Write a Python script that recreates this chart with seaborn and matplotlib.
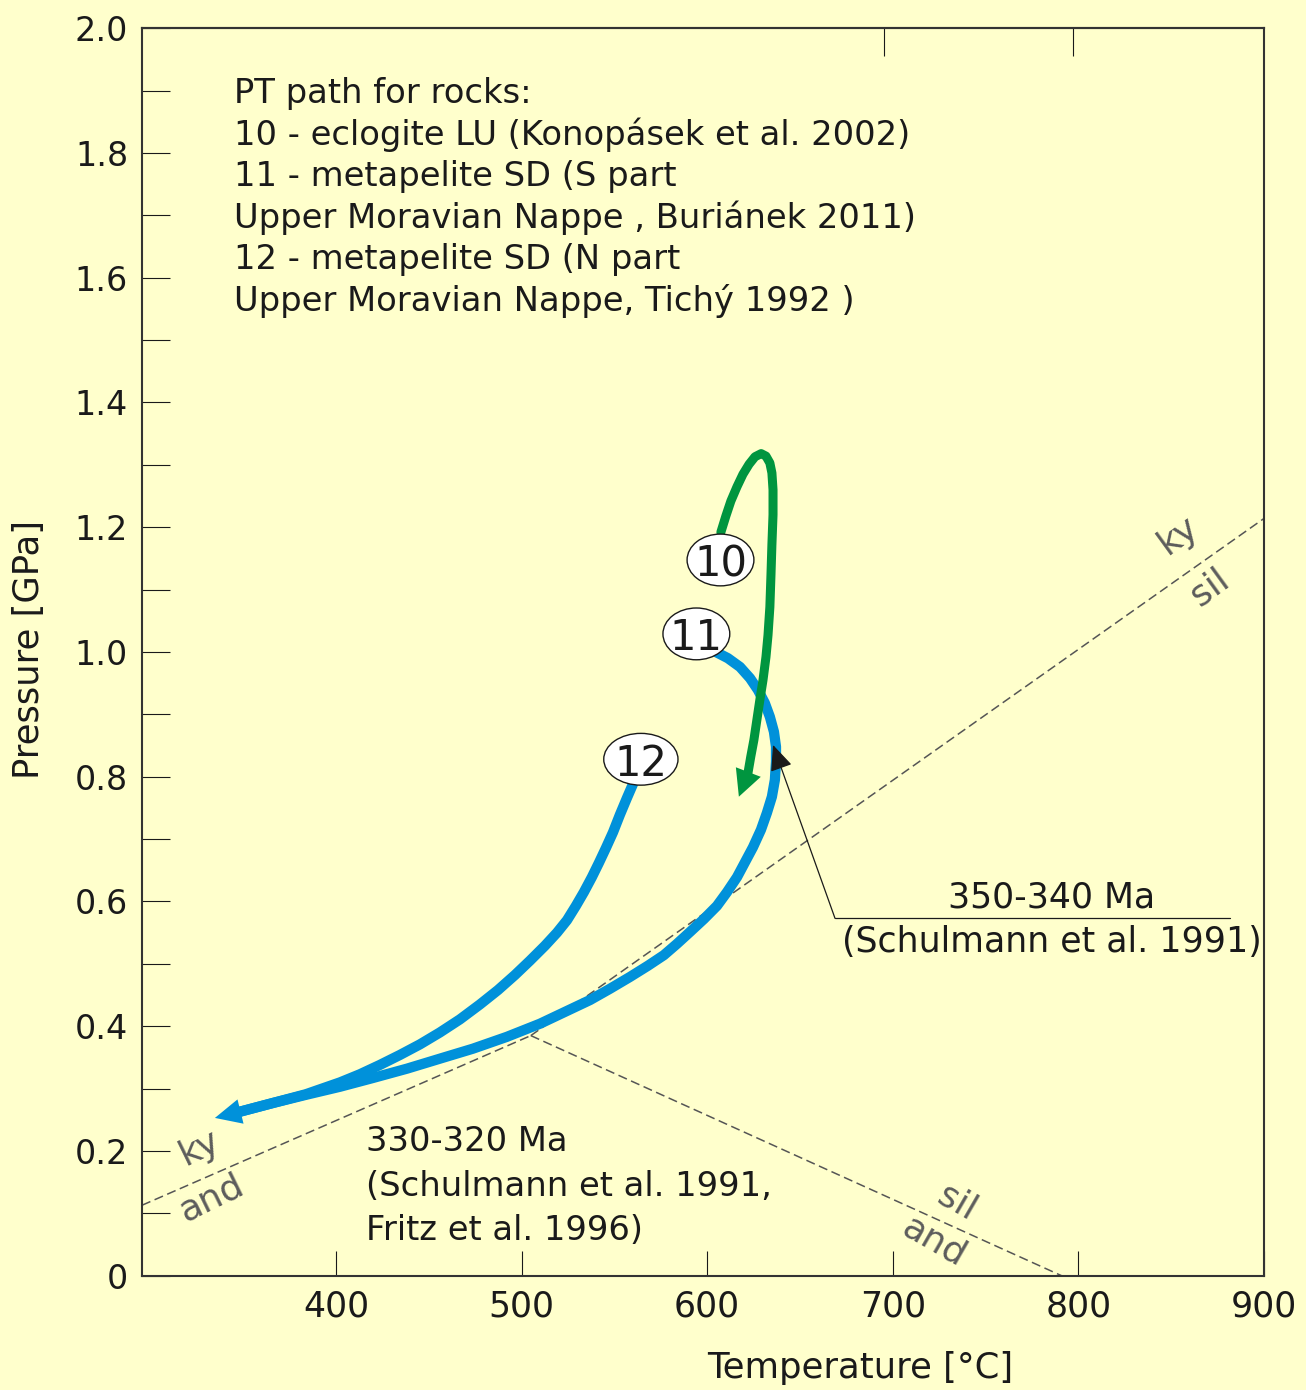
import numpy as np
import pandas as pd
import matplotlib
matplotlib.use("Agg")
import matplotlib.pyplot as plt
import seaborn as sns
from matplotlib.patches import Ellipse

# ---- data -------------------------------------------------------------
# PT paths (temperature in degC, pressure in GPa); last point = arrow tip
path10_T = [607.4, 610.1, 612.8, 616.1, 619.3, 622.6, 625.8, 629.1, 631.7,
            633.8, 634.9, 635.5, 635.5, 634.9, 634.4, 633.8, 632.8, 631.7,
            630.1, 628.4, 626.8, 625.2, 623.5, 622.0, 617.1]
path10_P = [1.192, 1.218, 1.242, 1.265, 1.285, 1.301, 1.313, 1.318, 1.314,
            1.303, 1.287, 1.260, 1.220, 1.172, 1.124, 1.072, 1.027, 0.992,
            0.955, 0.923, 0.891, 0.859, 0.832, 0.806, 0.768]

path11_T = [604.7, 611.2, 617.7, 623.1, 627.4, 631.1, 633.8, 636.0, 637.1,
            637.1, 636.5, 634.9, 632.2, 629.0, 624.7, 620.4, 616.1, 610.7,
            605.3, 598.3, 590.7, 583.7, 576.7, 568.1, 558.4, 547.6, 536.9,
            523.4, 509.9, 492.1, 473.8, 456.0, 438.3, 419.9, 402.2, 383.8,
            366.1, 348.3, 334.8]
path11_P = [1.000, 0.990, 0.976, 0.958, 0.939, 0.918, 0.896, 0.872, 0.848,
            0.824, 0.795, 0.768, 0.742, 0.715, 0.687, 0.663, 0.639, 0.615,
            0.593, 0.572, 0.551, 0.532, 0.514, 0.497, 0.479, 0.460, 0.442,
            0.423, 0.404, 0.383, 0.364, 0.348, 0.332, 0.317, 0.303, 0.290,
            0.277, 0.263, 0.253]

path12_T = [560.0, 556.8, 553.0, 549.3, 545.5, 541.7, 537.9, 533.6, 529.3,
            524.5, 519.1, 512.6, 504.5, 496.4, 487.3, 477.6, 466.8, 456.0,
            445.3, 434.5, 423.7, 412.9, 402.2, 383.8, 366.1, 348.3]
path12_P = [0.788, 0.766, 0.739, 0.711, 0.686, 0.662, 0.639, 0.615, 0.593,
            0.570, 0.550, 0.529, 0.505, 0.482, 0.458, 0.435, 0.411, 0.390,
            0.371, 0.354, 0.338, 0.323, 0.310, 0.291, 0.277, 0.263]

# Al2SiO5 reaction lines
ky_and_T = [295.5, 505.0]
ky_and_P = [0.113, 0.385]
ky_sil_T = [505.0, 900.0]
ky_sil_P = [0.385, 1.214]
and_sil_T = [505.0, 791.0]
and_sil_P = [0.385, 0.0]

# path labels
label_text = ["10", "11", "12"]
label_T = [607.2, 594.2, 564.3]
label_P = [1.1475, 1.029, 0.828]
label_w = [36.0, 36.0, 40.0]

# leader of the 350-340 Ma note (end point = arrow tip)
leader_T = [881.7, 668.9, 635.5]
leader_P = [0.573, 0.573, 0.851]

x_ticks = [400, 500, 600, 700, 800, 900]
y_ticks = [0.0, 0.2, 0.4, 0.6, 0.8, 1.0, 1.2, 1.4, 1.6, 1.8, 2.0]
y_labels = ["0", "0.2", "0.4", "0.6", "0.8", "1.0", "1.2", "1.4", "1.6", "1.8", "2.0"]
top_ticks = [695.4, 796.9]

legend_lines = [
    "PT path for rocks:",
    "10 - eclogite LU (Konopásek et al. 2002)",
    "11 - metapelite SD (S part",
    "Upper Moravian Nappe , Buriánek 2011)",
    "12 - metapelite SD (N part",
    "Upper Moravian Nappe, Tichý 1992 )",
]
early_note = ["350-340 Ma", "(Schulmann et al. 1991)"]
late_note = ["330-320 Ma", "(Schulmann et al. 1991,", "Fritz et al. 1996)"]

# ---- style ------------------------------------------------------------
BG = "#FFFFCC"
BLUE = "#0091DA"
GREEN = "#00953F"
GREY = "#5c5c5c"
INK = "#1a1a1a"

sns.set_theme(style="ticks")
plt.rcParams["font.family"] = ["DejaVu Sans"]

fig = plt.figure(figsize=(13.06, 13.9), dpi=100, facecolor=BG)
ax = fig.add_axes([0.1087, 0.0822, 0.8591, 0.8975], facecolor=BG)

# reaction lines
for tx, px in [(ky_and_T, ky_and_P), (ky_sil_T, ky_sil_P), (and_sil_T, and_sil_P)]:
    sns.lineplot(x=tx, y=px, sort=False, estimator=None, color="#555555",
                 lw=1.1, linestyle=(0, (6, 3)), ax=ax, zorder=2)

# PT paths
line_kw = dict(sort=False, estimator=None, solid_capstyle="round",
               solid_joinstyle="round", ax=ax)
sns.lineplot(x=path12_T, y=path12_P, color=BLUE, lw=7.4, zorder=3, **line_kw)
sns.lineplot(x=path11_T[:-1], y=path11_P[:-1], color=BLUE, lw=7.4, zorder=3, **line_kw)
sns.lineplot(x=path10_T[:-1], y=path10_P[:-1], color=GREEN, lw=6.5, zorder=4, **line_kw)

# arrow heads
def head(T, P, color, hl, hw):
    ax.annotate("", xy=(T[-1], P[-1]), xytext=(T[-2], P[-2]),
                arrowprops=dict(arrowstyle=f"-|>,head_length={hl},head_width={hw}",
                                color=color, lw=0, shrinkA=0, shrinkB=0,
                                mutation_scale=20),
                zorder=5)

head(path11_T, path11_P, BLUE, 0.95, 0.45)
head(path10_T, path10_P, GREEN, 0.95, 0.48)

# path labels
for t, T, P, w in zip(label_text, label_T, label_P, label_w):
    ax.add_patch(Ellipse((T, P), width=w, height=0.083, facecolor="white",
                         edgecolor=INK, lw=1.0, zorder=6))
    ax.text(T, P, t, ha="center", va="center_baseline", fontsize=30,
            color=INK, zorder=7)

# leader for 350-340 Ma
sns.lineplot(x=leader_T[:2], y=leader_P[:2], sort=False, estimator=None,
             color=INK, lw=0.9, ax=ax, zorder=5)
ax.annotate("", xy=(leader_T[2], leader_P[2]), xytext=(leader_T[1], leader_P[1]),
            arrowprops=dict(arrowstyle="-|>,head_length=0.8,head_width=0.35",
                            color=INK, lw=0.9, shrinkA=0, shrinkB=0,
                            mutation_scale=20),
            zorder=5)

# reaction labels
mineral_labels = [
    ("ky", 853.7, 1.188, 36), ("sil", 870.9, 1.104, 36),
    ("ky", 326.7, 0.205, 26), ("and", 333.2, 0.125, 26),
    ("sil", 734.6, 0.117, -30), ("and", 722.7, 0.054, -30),
]
for s, T, P, rot in mineral_labels:
    ax.text(T, P, s, ha="center", va="center", rotation=rot,
            rotation_mode="anchor", fontsize=26, color=GREY, zorder=3)

# text blocks
for i, line in enumerate(legend_lines):
    ax.text(345.0, 1.880 - 0.0667 * i, line, ha="left", va="baseline",
            fontsize=24.3, color=INK)
for i, line in enumerate(late_note):
    ax.text(416.2, 0.1996 - 0.0713 * i, line, ha="left", va="baseline",
            fontsize=24.3, color=INK)
for i, line in enumerate(early_note):
    ax.text(785.8, 0.591 - 0.072 * i, line, ha="center", va="baseline",
            fontsize=25, color=INK)

# axes
ax.set_xlim(295.5, 900)
ax.set_ylim(0, 2.0)
ax.set_xticks(x_ticks)
ax.set_xticklabels([str(v) for v in x_ticks])
ax.set_yticks(y_ticks)
ax.set_yticklabels(y_labels)
ax.set_yticks(np.arange(0.1, 2.0, 0.2), minor=True)
ax.tick_params(axis="y", which="both", direction="in", length=20, width=0.8,
               pad=10, labelsize=24, colors=INK, right=False)
ax.tick_params(axis="x", which="both", direction="in", length=18, width=0.8,
               pad=10, labelsize=25, colors=INK, top=False)
sec = ax.secondary_xaxis("top")
sec.set_xticks(top_ticks)
sec.tick_params(direction="in", length=20, width=0.8, labeltop=False, colors=INK)
sec.spines["top"].set_color("#333333")
sec.spines["top"].set_linewidth(1.5)
for sp in ax.spines.values():
    sp.set_visible(True)
    sp.set_color("#333333")
    sp.set_linewidth(1.5)

ax.set_xlabel("Temperature [°C]", fontsize=25.5, color=INK, va="center")
ax.xaxis.set_label_coords(0.64, -0.074)
ax.set_ylabel("Pressure [GPa]", fontsize=25.5, color=INK, va="center")
ax.yaxis.set_label_coords(-0.101, 0.5016)

fig.savefig("out.png", dpi=100, facecolor=BG)
